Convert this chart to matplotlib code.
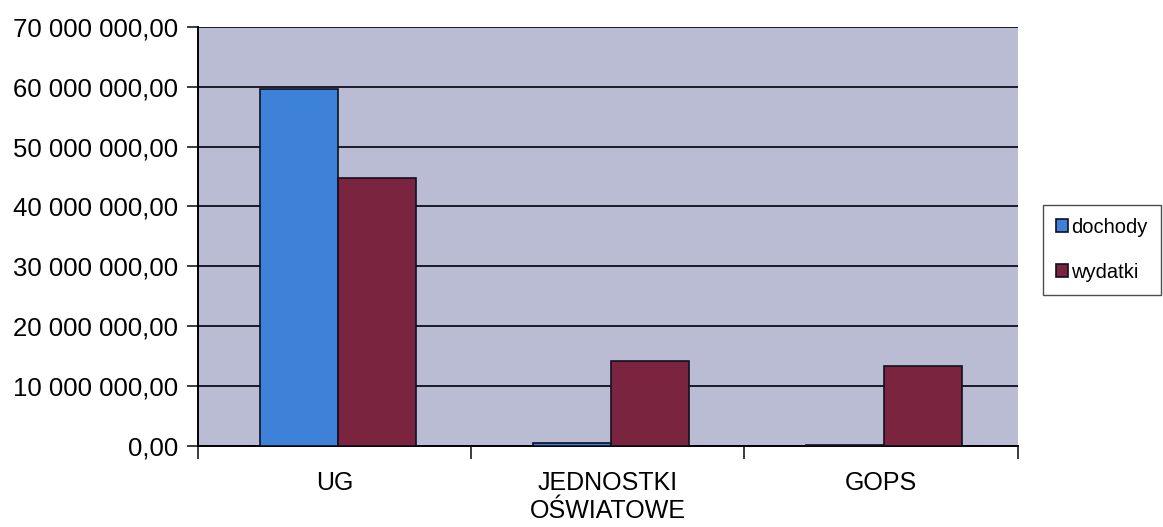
import matplotlib
matplotlib.use("Agg")
import matplotlib.pyplot as plt
import numpy as np

categories = ["UG", "JEDNOSTKI\nOŚWIATOWE", "GOPS"]
dochody = [59_600_000, 400_000, 200_000]
wydatki = [44_700_000, 14_200_000, 13_300_000]
series_names = ["dochody", "wydatki"]
yticks = [0, 10_000_000, 20_000_000, 30_000_000, 40_000_000, 50_000_000, 60_000_000, 70_000_000]

def fmt(v):
    s = f"{v:,.2f}"
    s = s.replace(",", " ").replace(".", ",")
    return s

plt.rcParams['font.family'] = ['Liberation Sans', 'DejaVu Sans']

fig = plt.figure(figsize=(11.63, 5.27), dpi=100)
ax = fig.add_axes([0.170, 0.154, 0.705, 0.795])
ax.set_facecolor("#b9bcd2")

x = np.arange(len(categories))
w = 0.285
ax.bar(x - w/2 + 0.012, dochody, w, color="#3d82d8", edgecolor="#101020", linewidth=1.2, label=series_names[0], zorder=3)
ax.bar(x + w/2 + 0.012, wydatki, w, color="#7b2440", edgecolor="#101020", linewidth=1.2, label=series_names[1], zorder=3)

ax.set_xlim(-0.5, 2.5)
ax.set_ylim(0, 70_000_000)
ax.set_yticks(yticks)
ax.set_yticklabels([fmt(v) for v in yticks], fontsize=18.5)
ax.yaxis.grid(True, color="#1a1a2a", linewidth=1.4, zorder=1)
ax.set_axisbelow(True)

ax.set_xticks([-0.5, 0.5, 1.5, 2.5])
ax.set_xticklabels([])
ax.set_xticks(x, minor=True)
ax.set_xticklabels(categories, minor=True, fontsize=18, linespacing=1.2)
ax.tick_params(axis='x', which='minor', length=0, pad=18)
ax.tick_params(axis='x', which='major', length=9, width=1.2, color="#1a1a1a")
ax.tick_params(axis='y', length=8, width=1.2, pad=6, color="#1a1a1a")

ax.spines['right'].set_visible(False)
ax.spines['top'].set_visible(False)
ax.spines['left'].set_linewidth(1.4)
ax.spines['bottom'].set_linewidth(1.4)

leg = ax.legend(loc='center left', bbox_to_anchor=(1.031, 0.468), fontsize=14.5,
                frameon=True, fancybox=False, edgecolor="#222222",
                handlelength=0.6, handleheight=0.6, handletextpad=0.15,
                labelspacing=1.3, borderpad=0.65, borderaxespad=0)
leg.get_frame().set_linewidth(1.0)

fig.savefig("out.png", dpi=100, facecolor="white")
